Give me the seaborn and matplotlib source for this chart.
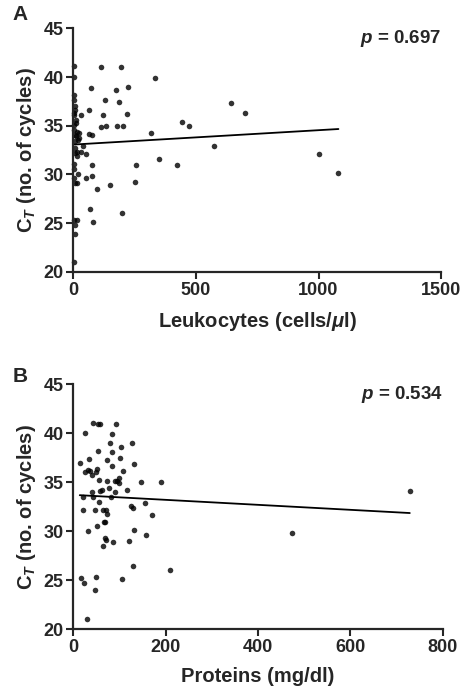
import matplotlib
matplotlib.use('Agg')

import matplotlib.pyplot as plt
import seaborn as sns

# Panel A: leukocytes vs CT
leuko_x = [3, 3, 3, 5, 8, 3, 11, 3, 16, 24, 7, 11, 24, 19, 7, 16, 7, 33, 41, 52,
           16, 3, 20, 5, 16, 3, 16, 5, 8, 3, 30, 63, 72, 63, 76, 76, 76, 52, 95, 68,
           79, 114, 122, 131, 113, 132, 150, 174, 185, 180, 193, 201, 219, 223, 200,
           252, 257, 316, 333, 351, 423, 445, 472, 575, 642, 702, 1000, 1081,
           2, 4, 3, 6, 4, 3, 9]
leuko_ct = [41.1, 40.0, 38.2, 37.0, 36.6, 36.1, 35.6, 35.1, 34.4, 34.3, 34.0, 33.9,
            33.7, 33.5, 32.7, 32.3, 32.2, 32.3, 32.9, 32.1, 31.9, 30.6, 30.0, 29.1,
            29.1, 25.3, 25.3, 24.8, 23.9, 21.0, 36.1, 36.6, 38.9, 34.2, 34.0, 31.0,
            29.8, 29.6, 28.5, 26.5, 25.1, 41.0, 36.1, 37.6, 34.9, 35.0, 28.9, 38.7,
            37.4, 35.0, 41.0, 35.0, 36.2, 39.0, 26.0, 29.2, 31.0, 34.3, 39.9, 31.6,
            31.0, 35.4, 35.0, 32.9, 37.3, 36.3, 32.1, 30.1,
            37.6, 36.3, 34.6, 33.4, 31.1, 29.6, 35.3]

# Panel B: proteins vs CT
prot_x = [14, 25, 16, 23, 30, 20, 22, 31, 25, 31, 35, 36, 40, 42, 40, 43, 46, 47,
          49, 51, 50, 52, 53, 54, 58, 56, 55, 58, 63, 65, 66, 69, 71, 72, 65, 69,
          71, 74, 74, 78, 82, 83, 80, 83, 84, 87, 91, 93, 90, 95, 100, 102, 104,
          100, 107, 106, 117, 121, 125, 129, 127, 131, 130, 132, 146, 155, 157,
          170, 191, 210, 474, 729]
prot_ct = [37.0, 40.0, 25.2, 24.7, 21.1, 32.2, 33.5, 30.0, 36.1, 36.3, 37.4, 36.2,
           35.7, 41.1, 34.0, 33.5, 24.0, 32.2, 36.1, 36.4, 25.3, 30.5, 38.2, 41.0,
           41.0, 35.2, 33.0, 34.1, 34.2, 32.2, 31.0, 31.0, 32.2, 31.8, 28.5, 29.3,
           29.1, 37.3, 35.1, 34.4, 33.5, 39.9, 39.0, 38.1, 36.7, 28.9, 35.1, 41.0,
           34.0, 35.1, 35.4, 37.5, 38.6, 34.9, 36.2, 25.1, 34.2, 29.0, 32.6, 32.4,
           39.0, 36.9, 26.5, 30.1, 35.0, 32.9, 29.6, 31.7, 35.0, 26.0, 29.8, 34.1]

ct_ticks = [20, 25, 30, 35, 40, 45]

sns.set_style('ticks')
plt.rcParams['font.family'] = ['Liberation Sans', 'DejaVu Sans']
plt.rcParams['font.weight'] = 'bold'
plt.rcParams['mathtext.fontset'] = 'custom'
plt.rcParams['mathtext.rm'] = 'Liberation Sans:bold'
plt.rcParams['mathtext.it'] = 'Liberation Sans:italic:bold'
plt.rcParams['mathtext.bf'] = 'Liberation Sans:bold'

fig = plt.figure(figsize=(4.61, 6.9), dpi=100)
ax1 = fig.add_axes([0.159, 0.606, 0.798, 0.353])
ax2 = fig.add_axes([0.159, 0.088, 0.801, 0.355])

panels = [
    (ax1, leuko_x, leuko_ct, (0, 1500), [0, 500, 1000, 1500],
     r'Leukocytes (cells/$\mathit{\mu}$l)', r'$p$ = 0.697', 'A', 1.055),
    (ax2, prot_x, prot_ct, (0, 800), [0, 200, 400, 600, 800],
     'Proteins (mg/dl)', r'$p$ = 0.534', 'B', 1.03),
]

for ax, x, y, xlim, xticks, xlabel, ptxt, letter, ly in panels:
    sns.regplot(x=x, y=y, ax=ax, ci=None, color='black',
                scatter_kws={'s': 16, 'linewidths': 0, 'clip_on': False},
                line_kws={'linewidth': 1.3})
    ax.set_xlim(xlim)
    ax.set_ylim(20, 45)
    ax.set_xticks(xticks, labels=[str(t) for t in xticks], fontweight='bold')
    ax.set_yticks(ct_ticks, labels=[str(t) for t in ct_ticks], fontweight='bold')
    ax.set_xlabel(xlabel, fontsize=14.5, fontweight='bold', labelpad=8)
    ax.set_ylabel(r'C$_{\mathit{T}}$ (no. of cycles)', fontsize=14.5,
                  fontweight='bold', labelpad=4)
    ax.tick_params(labelsize=13, width=1.5, length=5, pad=2)
    sns.despine(ax=ax)
    for s in ['left', 'bottom']:
        ax.spines[s].set_linewidth(1.6)
    ax.text(1.0, 1.0, ptxt, transform=ax.transAxes, ha='right', va='top',
            fontsize=13.5, fontweight='bold')
    ax.text(-0.165, ly, letter, transform=ax.transAxes, ha='left', va='center',
            fontsize=15, fontweight='bold')

plt.savefig('out.png', dpi=100)
plt.close()
